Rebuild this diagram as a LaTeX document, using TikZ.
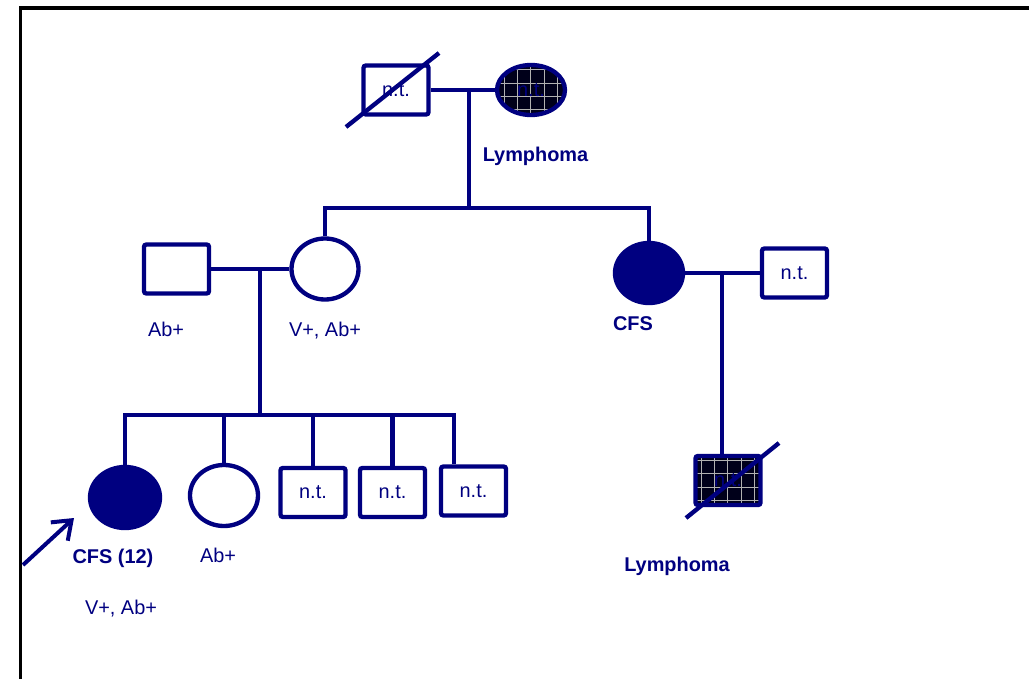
\documentclass[tikz,border=0pt]{standalone}
\usepackage{fontspec}
\setmainfont{Liberation Sans}
\usepackage{tikz}
\usetikzlibrary{positioning, shapes.geometric, arrows.meta, calc}
\definecolor{pednavy}{RGB}{0,0,128}

\begin{document}
\begin{tikzpicture}[
			x=0.03cm, y=-0.03cm,
			font=\fontsize{17}{20}\selectfont,
			% Define styles for the pedigree symbols
			pedline/.style={
				draw=pednavy,
				line width=0.13cm
			},
			male/.style={
				pedline,
				fill=white,
				rectangle,
				rounded corners=2pt,
				minimum width=1.95cm,
				minimum height=1.47cm,
				inner sep=0pt,
				text=pednavy
			},
			female/.style={
				pedline,
				fill=white,
				ellipse,
				minimum width=2.04cm,
				minimum height=1.83cm,
				inner sep=0pt,
				text=pednavy
			},
			affected/.style={
				fill=pednavy
			},
			lymph/.style={
				fill=pednavy!20!black,
				path picture={
					\draw[gray!60, line width=0.45pt]
					(path picture bounding box.south west) grid[step=0.4cm]
					(path picture bounding box.north east);
				}
			},
			status_text/.style={
				font=\fontsize{17}{20}\selectfont\bfseries,
				text=pednavy,
				anchor=base
			},
			test_text/.style={
				text=pednavy,
				anchor=base
			}
			]
			
			\path[use as bounding box, clip] (0,0) rectangle (1029,679);
			\draw[black, line width=0.105cm] (20.5,8) rectangle (1060,720);
			
			% --- 1. GRANDPARENTS ---
			\node[male] (gp_m) at (396,90) {n.t.};
			\node[female, lymph, minimum height=1.5cm] (gp_f) at (531,90) {n.t.};
			\draw[pedline] (gp_m.east) -- (gp_f.west);
			\draw[pedline] ($(gp_m.center)+(-50,37)$) -- ($(gp_m.center)+(43,-37)$);
			\node[status_text] (gp_f_txt) at (535.5,162) {Lymphoma};
			
			% --- 2. PARENTS, AUNT ---
			\coordinate (gen1_drop) at (469,90);
			\coordinate (sib2) at (469,208);
			\draw[pedline] (gen1_drop) -- (sib2);
			
			\node[male] (p_m) at (176.5,269) {};
			\node[female, minimum width=2.01cm] (p_f) at (325,269) {};
			\node[female, affected, minimum height=1.8cm] (aunt) at (649,273) {};
			\node[male] (uncle) at (794.5,273) {n.t.};
			
			% Sibship line
			\draw[pedline] (p_f.north) -- (p_f.north |- sib2) -- (aunt.north |- sib2) -- (aunt.north);
			% Couples
			\draw[pedline] (p_m.east) -- (p_f.west);
			\draw[pedline] (aunt.east) -- (uncle.west);
			
			\node[test_text] (p_m_txt) at (166,337) {Ab+};
			\node[test_text] (p_f_txt) at (325,337) {V+, Ab+};
			\node[status_text] (aunt_txt) at (633,330) {CFS};
			
			% --- 3. CHILDREN ---
			\coordinate (gen2_drop) at (260,269);
			\coordinate (sib3) at (260,415);
			\coordinate (sib3_end) at (454,415);
			\draw[pedline] (gen2_drop) -- (sib3);
			
			\node[female, affected, minimum width=2.1cm] (proband) at (125,497.5) {};
			\node[female] (sis) at (224,495.5) {};
			\node[male] (b1) at (313,492.5) {n.t.};
			\node[male] (b2) at (392.5,492.5) {n.t.};
			\node[male] (b3) at (473.5,491) {n.t.};
			
			\draw[pedline] (proband.north) -- (proband.north |- sib3) -- (sib3_end) -- (sib3_end |- b3.north);
			\foreach \kid in {sis, b1, b2}
			\draw[pedline] (\kid.north |- sib3) -- (\kid.north);
			
			% Proband arrow
			\coordinate (arrow_tail) at (23,565);
			\coordinate (arrow_tip) at (74,518);
			\draw[pedline, line width=0.12cm, -{Straight Barb[length=0.5cm, width=0.75cm]}] (arrow_tail) -- (arrow_tip);
			
			\node[status_text] (proband_txt) at (113,563) {CFS (12)};
			\node[test_text] (sis_txt) at (218,562) {Ab+};
			\node[test_text] (proband_txt_2) at (121,614) {V+, Ab+};
			
			% Cousin
			\coordinate (gen2b_drop) at (722,273);
			\node[male, lymph] (cousin) at (728,480.5) {n.t.};
			\draw[pedline] (gen2b_drop) -- (gen2b_drop |- cousin.north);
			\draw[pedline] ($(cousin.center)+(-42,37.5)$) -- ($(cousin.center)+(51,-37.5)$);
			\node[status_text] (cousin_txt) at (677,571) {Lymphoma};
			
		\end{tikzpicture}
\end{document}
